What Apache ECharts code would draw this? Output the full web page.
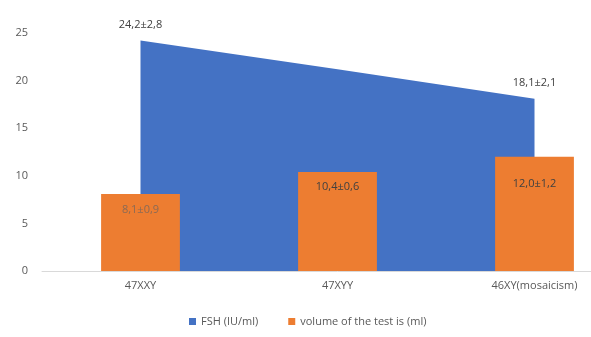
<!DOCTYPE html>
<html><head><meta charset="utf-8">
<script src="https://cdn.jsdelivr.net/npm/echarts@6/dist/echarts.min.js"></script>
<style>html,body{margin:0;padding:0;background:#fff;overflow:hidden;width:591px;height:337px}#c{width:633px;height:337px}</style>
</head><body><div id="c"></div>
<script>
const categories = ['47XXY', '47XYY', '46XY(mosaicism)'];
const fshValues = [24.2, 21.2, 18.1];
const fshLabels = ['24,2±2,8', '', '18,1±2,1'];
const volumeValues = [8.1, 10.4, 12.0];
const volumeLabels = ['8,1±0,9', '10,4±0,6', '12,0±1,2'];
const yTicks = [0, 5, 10, 15, 20, 25];

// label placement (style only)
const volLabelDist = [10, 9, 22];
const volLabelColor = ['#8a6a55', '#404040', '#404040'];

const chart = echarts.init(document.getElementById('c'));
chart.setOption({
  animation: false,
  textStyle: { fontFamily: 'Open Sans, sans-serif' },
  grid: { left: 42, right: 0, top: 33, bottom: 66 },
  legend: {
    bottom: 5, left: 184, itemWidth: 7, itemHeight: 7, itemGap: 30,
    icon: 'rect',
    textStyle: { color: '#595959', fontSize: 11 },
    data: ['FSH (IU/ml)', 'volume of the test is (ml)']
  },
  xAxis: {
    type: 'category', data: categories, boundaryGap: true,
    axisLine: { lineStyle: { color: '#d9d9d9' } },
    axisTick: { show: false },
    axisLabel: { color: '#595959', fontSize: 11, margin: 9 }
  },
  yAxis: {
    type: 'value', min: yTicks[0], max: yTicks[yTicks.length - 1], interval: 5,
    axisLine: { show: false }, axisTick: { show: false },
    splitLine: { show: false },
    axisLabel: { color: '#595959', fontSize: 11, margin: 14 }
  },
  series: [
    {
      name: 'FSH (IU/ml)', type: 'line', z: 1,
      data: fshValues.map((v, i) => ({ value: v, label: { show: fshLabels[i] !== '' } })),
      symbol: 'circle', symbolSize: 0, showSymbol: true,
      lineStyle: { width: 0, color: '#4472C4' },
      itemStyle: { color: '#4472C4' },
      areaStyle: { color: '#4472C4', opacity: 1 },
      label: { position: 'top', distance: 10, color: '#404040', fontSize: 11,
        formatter: p => fshLabels[p.dataIndex] }
    },
    {
      name: 'volume of the test is (ml)', type: 'bar', z: 3, barWidth: '40%',
      data: volumeValues.map((v, i) => ({ value: v,
        label: { distance: volLabelDist[i], color: volLabelColor[i] } })),
      itemStyle: { color: '#ED7D31' },
      label: { show: true, position: 'insideTop', color: '#404040', fontSize: 11,
        formatter: p => volumeLabels[p.dataIndex] }
    }
  ]
});
</script></body></html>
